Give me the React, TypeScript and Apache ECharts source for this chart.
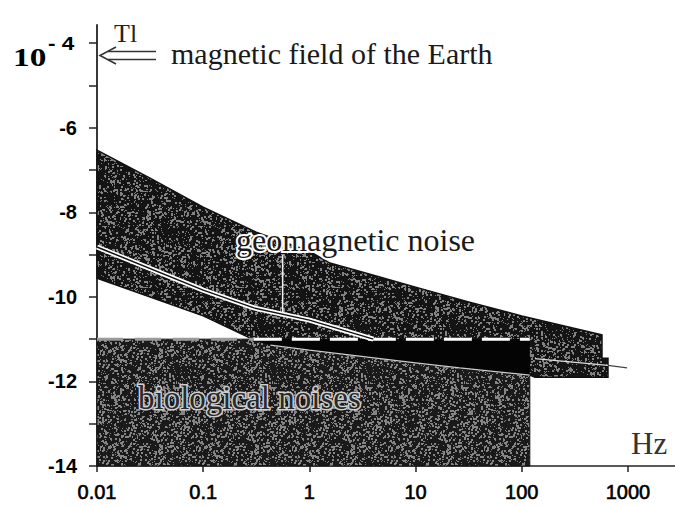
import React, { useEffect, useRef } from 'react';
import * as echarts from 'echarts';

// ---- axes ----
const xMin = 0.01;
const xMax = 2771;
const yMin = -14;
const yMax = -3.57;
const xTickValues = [0.01, 0.1, 1, 10, 100, 1000];
const xTickLabels = ['0.01', '0.1', '1', '10', '100', '1000'];
const yTickValues = [-14, -13, -12, -11, -10, -9, -8, -7, -6, -5, -4];
const yLabelValues = [-14, -12, -10, -8, -6, -4];
const yTickLabels = ['-14', '-12', '-10', '-8', '-6', ''];
const topLabelBase = '10';
const topLabelExp = '- 4';

// ---- geomagnetic noise band (log10 T vs Hz) ----
const geoUpperF = [0.01, 0.0316, 0.1, 0.18, 0.316, 1, 1.56, 4.6, 10, 31.6, 100, 569];
const geoUpperY = [-6.53, -7.19, -7.88, -8.18, -8.47, -8.92, -9.2, -9.53, -9.77, -10.12, -10.45, -10.9];
const geoRightF = [569, 648, 648, 133];
const geoRightY = [-11.45, -11.45, -11.9, -11.9];
const geoLowerF = [0.01, 0.1, 0.29, 0.43, 1, 10, 26, 119];
const geoLowerY = [-9.56, -10.45, -11.0, -11.14, -11.26, -11.56, -11.68, -11.85];

// ---- biological noises block ----
const bioF = [0.01, 119];
const bioY = [-14, -11];

// ---- line inside the geomagnetic band ----
const midF = [0.01, 0.1, 0.3, 1, 4];
const midY = [-8.82, -9.84, -10.26, -10.55, -11.0];

// ---- pointer from label ----
const ptrF = [0.56, 0.56];
const ptrY = [-9.0, -10.38];

// ---- tail line beyond 100 Hz ----
const tailInF = [133, 648];
const tailInY = [-11.46, -11.62];
const tailOutF = [648, 980];
const tailOutY = [-11.62, -11.68];

// ---- dashed limit ----
const dashF = [0.3, 119];
const dashY = [-11, -11];
const dashLeftF = [0.01, 0.3];
const dashLeftY = [-11, -11];

const zip = (a: number[], b: number[]) => a.map((v, i) => [v, b[i]]);

function makeTexture(dark: string, light: string, dBig: number, dSmall: number, seed: number) {
  const n = 96;
  const c = document.createElement('canvas');
  c.width = n;
  c.height = n;
  const ctx = c.getContext('2d')!;
  ctx.fillStyle = dark;
  ctx.fillRect(0, 0, n, n);
  ctx.fillStyle = light;
  let h = seed;
  const next = () => {
    h = (h * 1103515245 + 12345) & 0x7fffffff;
    return ((h >> 8) % 1000) / 1000;
  };
  for (let y = 0; y < n; y++) {
    for (let x = 0; x < n; x++) {
      const r = next();
      if (r < dBig) ctx.fillRect(x, y, 2, 2);
      else if (r < dBig + dSmall) ctx.fillRect(x, y, 1, 1);
    }
  }
  return c;
}

export default function App() {
  const ref = useRef<HTMLDivElement>(null);
  useEffect(() => {
    if (!ref.current) return;
    const chart = echarts.init(ref.current, null, { renderer: 'svg' });

    const tex1 = makeTexture('#141414', '#828282', 0.05, 0.08, 17);
    const tex2 = makeTexture('#1a1a1a', '#858585', 0.06, 0.09, 91);

    const geoPts = [
      ...zip(geoUpperF, geoUpperY),
      ...zip(geoRightF, geoRightY),
      ...zip(geoLowerF, geoLowerY).reverse(),
    ];
    const bioPts = [
      [bioF[0], bioY[0]],
      [bioF[1], bioY[0]],
      [bioF[1], bioY[1]],
      [bioF[0], bioY[1]],
    ];
    const overlapPts = [
      ...zip(geoLowerF, geoLowerY).filter((p) => p[1] <= bioY[1] && p[0] <= bioF[1]),
      [bioF[1], bioY[1]],
    ];

    const polygon = (pts: number[][], fill: any, stroke: string, lw: number, z: number) => ({
      type: 'custom',
      coordinateSystem: 'cartesian2d',
      silent: true,
      z,
      data: pts,
      encode: { x: 0, y: 1 },
      renderItem: (params: any, api: any) => {
        if (params.dataIndex !== 0) return null;
        return {
          type: 'polygon',
          shape: { points: pts.map((p) => api.coord(p)) },
          style: { fill, stroke, lineWidth: lw },
        };
      },
    });

    const line = (pts: number[][], color: string, width: number, z: number, type: any = 'solid') => ({
      type: 'line',
      data: pts,
      showSymbol: false,
      symbol: 'none',
      silent: true,
      z,
      lineStyle: { color, width, type },
    });

    const serif = 'Liberation Serif';
    const sans = 'Liberation Sans';

    chart.setOption({
      animation: false,
      backgroundColor: '#fff',
      grid: { left: 97, right: 0, top: 25, bottom: 40, outerBoundsMode: 'none', containLabel: false },
      xAxis: {
        type: 'log',
        logBase: 10,
        min: xMin,
        max: xMax,
        splitLine: { show: false },
        axisLine: { lineStyle: { color: '#222', width: 1.5 } },
        axisTick: { show: true, length: 6, customValues: xTickValues, lineStyle: { color: '#222', width: 1.5 } },
        axisLabel: {
          customValues: xTickValues,
          margin: 16,
          fontFamily: sans,
          fontSize: 20,
          lineHeight: 20,
          color: '#000',
          textBorderColor: '#000',
          textBorderWidth: 0.6,
          formatter: (v: number) => {
            const i = xTickValues.findIndex((t) => Math.abs(Math.log10(t) - Math.log10(v)) < 1e-6);
            return i >= 0 ? xTickLabels[i] : '';
          },
        },
      },
      yAxis: {
        type: 'value',
        min: yMin,
        max: yMax,
        interval: 1,
        splitLine: { show: false },
        axisLine: { lineStyle: { color: '#222', width: 1.8 } },
        axisTick: { show: true, length: 8, customValues: yTickValues, lineStyle: { color: '#222', width: 1.5 } },
        axisLabel: {
          customValues: yLabelValues,
          margin: 20,
          fontFamily: sans,
          fontWeight: 'bold',
          fontSize: 20,
          color: '#000',
          formatter: (v: number) => {
            const i = yLabelValues.findIndex((t) => Math.abs(t - v) < 1e-6);
            return i >= 0 ? yTickLabels[i] : '';
          },
        },
      },
      series: [
        polygon(bioPts, { image: tex2, repeat: 'repeat' }, '#111', 1, 1),
        polygon(geoPts, { image: tex1, repeat: 'repeat' }, '#111', 1.5, 2),
        polygon(overlapPts, '#040404', 'none', 0, 3),
        line(zip(dashLeftF, dashLeftY), '#9a9a9a', 3, 4, [26, 12]),
        line(zip(dashF, dashY), '#ffffff', 3, 4, [28, 10]),
        line(zip(midF, midY), '#ffffff', 5, 5),
        line(zip(midF, midY), '#111111', 1.5, 6),
        line(zip(ptrF, ptrY), '#f0f0f0', 1.5, 6),
        line(zip(tailInF, tailInY), '#dddddd', 1.2, 6),
        line(zip(tailOutF, tailOutY), '#444444', 1.2, 6),
        line(zip(geoLowerF, geoLowerY).filter((p) => p[1] < -11), '#cccccc', 1.2, 6),
      ],
      graphic: [
        { type: 'text', x: 13, y: 57, scaleX: 1.28, style: { text: topLabelBase, fontFamily: serif, fontWeight: 'bold', fontSize: 26, fill: '#000', verticalAlign: 'middle' }, z: 10 },
        { type: 'text', x: 48, y: 44, scaleX: 1.25, style: { text: topLabelExp, fontFamily: sans, fontWeight: 'bold', fontSize: 18, fill: '#000', verticalAlign: 'middle' }, z: 10 },
        { type: 'text', left: 114, top: 20, style: { text: 'Tl', fontFamily: serif, fontSize: 26, fill: '#222' }, z: 10 },
        { type: 'text', left: 631, top: 428, style: { text: 'Hz', fontFamily: serif, fontSize: 31, fill: '#333' }, z: 10 },
        {
          type: 'text', x: 171, y: 53,
          style: { text: 'magnetic field of the Earth', fontFamily: serif, fontSize: 30, fill: '#1a1a1a', verticalAlign: 'middle' },
          z: 10,
        },
        {
          type: 'text', x: 236, y: 240,
          style: { text: 'geomagnetic noise', fontFamily: serif, fontSize: 32, fill: '#ffffff', verticalAlign: 'middle', stroke: '#ffffff', lineWidth: 4 },
          z: 10,
        },
        {
          type: 'text', x: 236, y: 240,
          style: { text: 'geomagnetic noise', fontFamily: serif, fontSize: 32, fill: '#1a1a1a', verticalAlign: 'middle' },
          z: 11,
        },
        {
          type: 'text', x: 138, y: 398,
          style: { text: 'biological noises', fontFamily: serif, fontSize: 33, fill: '#cfcfcf', verticalAlign: 'middle', stroke: '#cfcfcf', lineWidth: 3 },
          z: 10,
        },
        {
          type: 'text', x: 138, y: 398,
          style: { text: 'biological noises', fontFamily: serif, fontSize: 33, fill: '#2a2a2a', verticalAlign: 'middle' },
          z: 11,
        },
        { type: 'polyline', shape: { points: [[116, 47], [100, 55.5], [116, 64]] }, style: { stroke: '#333', lineWidth: 1.6, fill: 'none' }, z: 10 },
        { type: 'line', shape: { x1: 108, y1: 51.5, x2: 156, y2: 51.5 }, style: { stroke: '#333', lineWidth: 1.6 }, z: 10 },
        { type: 'line', shape: { x1: 108, y1: 59.5, x2: 156, y2: 59.5 }, style: { stroke: '#333', lineWidth: 1.6 }, z: 10 },
      ],
    });
    return () => chart.dispose();
  }, []);
  return <div ref={ref} style={{ position: 'fixed', left: 0, top: 0, width: 675, height: 506 }} />;
}
